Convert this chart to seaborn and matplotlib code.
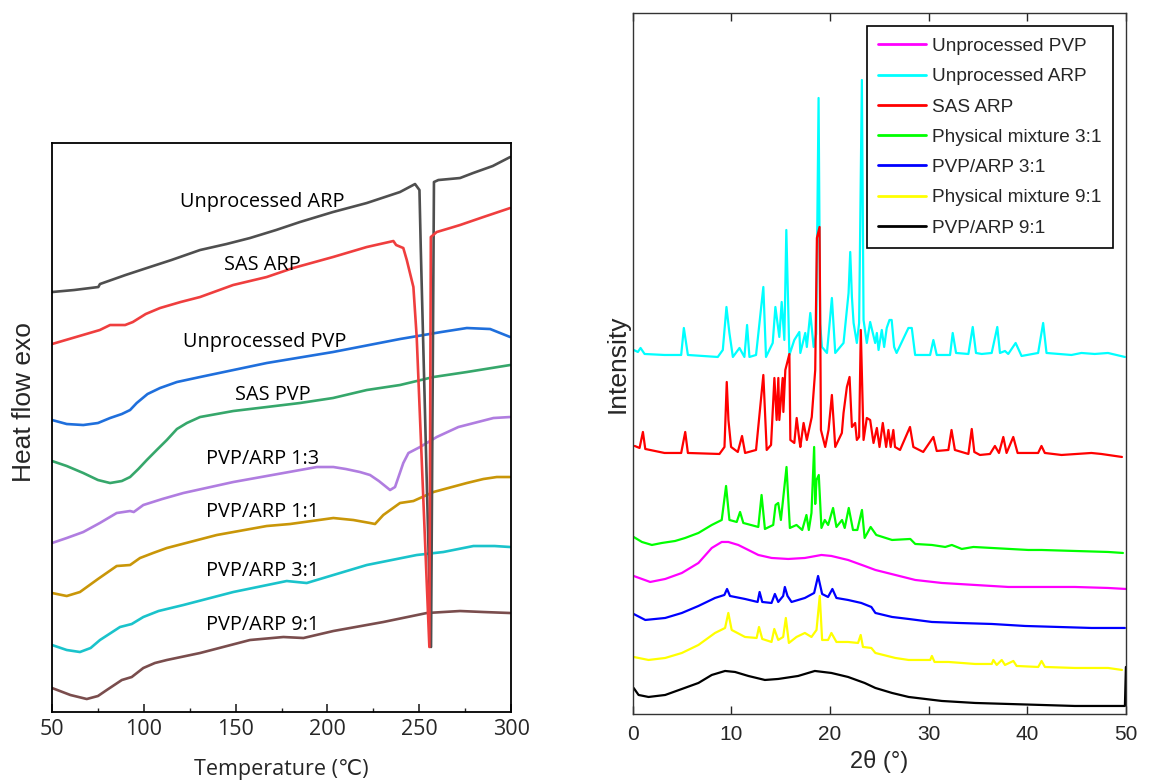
import matplotlib
matplotlib.use("Agg")
import matplotlib.pyplot as plt
import seaborn as sns
from matplotlib.ticker import MultipleLocator

sns.set_style("white")
plt.rcParams['font.family'] = ['Liberation Sans', 'DejaVu Sans']

# ---------------- DSC data (left panel): temperature (°C), heat flow (a.u.) ----------------
dsc_unproc_arp_T = [50, 62, 75.2, 76.1, 90, 101.6, 115, 130.6, 145, 157.8, 172, 185, 203, 221.4, 239.5, 247.7, 250.1, 250.8, 256.4, 258.0, 260.4, 272.2, 279.3, 290, 299.5]
dsc_unproc_arp_y = [420, 422, 425, 428, 437, 444, 452, 462, 468, 474, 482, 490, 500, 509, 520, 528, 522, 465, 65, 530, 532, 534, 539, 546, 555]

dsc_sas_arp_T = [50, 63, 76, 81.6, 89.8, 94, 101, 108.8, 120, 130.6, 148.6, 166.9, 181.3, 203, 221.4, 235.9, 237.4, 241.3, 243.2, 246.8, 248.6, 255.5, 256.3, 259.5, 266.8, 272.2, 284.9, 299.5]
dsc_sas_arp_y = [368, 375, 382, 387, 387, 390, 398, 404, 410, 415, 427, 435, 444, 455, 465, 471, 467, 464, 452, 425, 375, 65, 475, 480, 484, 487, 495, 504]

dsc_unproc_pvp_T = [50, 58, 67, 75, 81.6, 88, 92.5, 96.1, 102, 108.8, 118, 130.6, 166.9, 203, 239.5, 262, 275.9, 288.6, 299.5]
dsc_unproc_pvp_y = [292, 288, 287, 289, 294, 298, 302, 309, 318, 324, 330, 335, 349, 360, 373, 380, 384, 383, 375]

dsc_sas_pvp_T = [50, 58, 67, 75, 81.6, 88, 92.5, 97, 101.6, 107, 112.5, 118, 123.4, 130.6, 148.7, 166.9, 185, 203, 221.4, 239.5, 257.7, 275.9, 299.5]
dsc_sas_pvp_y = [251, 246, 239, 232, 229, 231, 235, 243, 252, 262, 272, 283, 289, 295, 301, 305, 309, 314, 322, 327, 335, 340, 347]

dsc_13_T = [50, 58, 67, 76, 85.2, 92.5, 94.5, 99.7, 110, 121.5, 148.7, 176, 194.2, 203.2, 210, 217.7, 223.2, 228, 234.1, 236.8, 241.3, 244.1, 250.4, 259.5, 271.3, 290.4, 299.5]
dsc_13_y = [169, 174, 180, 189, 199, 201, 200, 207, 213, 219, 230, 239, 245, 245, 243, 240, 237, 231, 222, 225, 249, 259, 265, 275, 285, 294, 295]

dsc_11_T = [50, 58, 65.2, 75, 85.2, 92.5, 97.9, 105, 112.5, 139.7, 166.9, 179.6, 203.2, 214.1, 223.2, 225.9, 230.4, 239.5, 246.8, 257.7, 275.9, 284.9, 292.2, 299.5]
dsc_11_y = [119, 116, 120, 133, 146, 147, 154, 159, 164, 177, 186, 188, 194, 192, 189, 188, 197, 209, 211, 220, 229, 233, 235, 235]

dsc_31_T = [50, 58, 65.2, 71, 76.1, 87, 93.4, 99.7, 108, 121.5, 148.7, 177.8, 188.7, 203.2, 221.4, 248.6, 263.1, 279.5, 291, 299.5]
dsc_31_y = [67, 62, 60, 64, 72, 85, 88, 95, 101, 107, 120, 131, 129, 137, 147, 157, 160, 166, 166, 165]

dsc_91_T = [50, 60, 68.9, 75, 79.8, 88, 93.4, 99.7, 106, 112.5, 130.6, 157.8, 176, 186.9, 203.2, 230.4, 254.1, 272.2, 284.9, 299.5]
dsc_91_y = [24, 17, 13, 16, 22, 32, 35, 44, 49, 52, 59, 72, 75, 74, 81, 90, 99, 101, 100, 99]

dsc_labels = ["Unprocessed ARP", "SAS ARP", "Unprocessed PVP", "SAS PVP",
              "PVP/ARP 1:3", "PVP/ARP 1:1", "PVP/ARP 3:1", "PVP/ARP 9:1"]

# ---------------- XRD data (right panel): 2-theta (deg), intensity (a.u.) ----------------
xrd_unproc_pvp_x = [0.09, 1.77, 3.29, 4.98, 6.66, 8.01, 9.02, 9.69, 10.7, 11.72, 12.73, 14.08, 15.76, 17.45, 19.13, 20.14, 21.83, 23.51, 24.6, 26.62, 28.64, 31.34, 34.71, 38.08, 41.45, 44.82, 48.2, 50.0]
xrd_unproc_pvp_y = [138, 132, 135, 141, 151, 166, 172, 172, 169, 164, 159, 156, 155, 156, 159, 158, 154, 148, 144, 139, 134, 131, 129, 127, 127, 127, 126, 125]

xrd_unproc_arp_x = [0.1, 0.52, 0.79, 1.2, 3.22, 4.91, 5.18, 5.59, 8.62, 9.13, 9.5, 9.8, 10.15, 10.82, 11.32, 11.59, 11.83, 12.5, 13.24, 13.51, 14.19, 14.46, 14.86, 15.1, 15.37, 15.57, 15.88, 16.38, 16.89,
                    16.99, 17.49, 17.65, 18.0, 18.34, 18.6, 18.84, 19.0, 19.18, 19.69, 20.19, 20.53, 21.37, 21.88, 22.05, 22.22, 22.39, 22.72, 22.95, 23.23, 23.4, 23.73, 24.07, 24.58, 24.75, 24.92, 25.25, 25.49, 25.75, 26.03, 26.25, 26.5, 26.75, 27.95, 28.29, 28.63, 30.15, 30.48, 30.82, 32.17, 32.44, 32.78,
                    34.03, 34.47, 34.8, 35.38, 36.39, 36.96, 37.23, 37.74, 38.07, 38.82, 39.42, 41.1, 41.61, 41.95, 44.48, 45.49, 46.84, 48.18, 49.9]
xrd_unproc_arp_y = [364, 362, 366, 360, 359, 359, 386, 359, 357, 364, 407, 381, 357, 366, 357, 389, 357, 359, 427, 357, 371, 407, 377, 412, 374, 484, 359, 374, 382,
                    361, 381, 367, 401, 367, 380, 616, 390, 367, 361, 416, 361, 371, 421, 462, 417, 391, 371, 391, 634, 394, 371, 392, 371, 381, 364, 384, 367, 386, 394, 394, 367, 361, 386, 386, 359, 359, 374, 359, 359, 381, 361,
                    360, 387, 361, 360, 361, 387, 361, 363, 360, 371, 358, 361, 391, 361, 359, 361, 360, 361, 357]

xrd_sas_arp_x = [0.2, 0.69, 1.03, 1.27, 3.22, 4.91, 5.32, 5.59, 8.79, 9.3, 9.53, 9.7, 9.97, 10.65, 11.08, 11.39, 12.5, 13.24, 13.58, 14.02, 14.36, 14.59, 14.76, 14.86, 15.2, 15.27, 15.47, 15.88, 15.98, 16.38, 16.62, 16.89,
                 16.99, 17.32, 17.65, 18.15, 18.5, 18.67, 18.94, 19.08, 19.51, 19.85, 20.19, 20.53, 21.2, 21.37, 21.71, 21.98, 22.22, 22.55, 22.72, 22.95, 23.12, 23.4, 23.73, 24.07, 24.41, 24.75, 25.02, 25.35, 25.69, 25.92, 26.15, 26.42, 26.59, 27.1, 28.11, 28.45, 29.45, 30.48, 30.82, 32.0, 32.32, 32.66,
                 34.03, 34.37, 34.63, 35.2, 36.22, 36.72, 37.13, 37.57, 37.9, 38.58, 39.02, 41.1, 41.44, 41.78, 43.47, 46.5, 47.51, 49.6]
xrd_sas_arp_y = [268, 266, 282, 265, 261, 261, 282, 261, 260, 267, 332, 294, 267, 262, 278, 261, 264, 339, 264, 269, 336, 294, 336, 294, 336, 302, 344, 360, 274, 271, 296, 274,
                 267, 291, 274, 297, 344, 476, 487, 284, 267, 284, 319, 267, 281, 301, 327, 337, 287, 291, 274, 277, 384, 274, 296, 294, 271, 286, 267, 291, 267, 284, 267, 284, 267, 264, 287, 267, 262, 277, 263, 264, 284, 264,
                 260, 285, 262, 259, 260, 268, 261, 277, 261, 277, 261, 261, 268, 261, 259, 261, 260, 257]

xrd_pm31_x = [0.09, 0.93, 1.94, 2.95, 4.3, 5.31, 6.66, 8.01, 9.02, 9.46, 9.8, 10.54, 10.88, 11.21, 12.73, 13.06, 13.4, 14.24, 14.48, 14.75, 15.02, 15.59, 15.93, 16.6, 17.18, 17.61, 17.85, 18.12, 18.39, 18.5, 18.63, 18.86, 19.13, 19.47, 19.81, 20.31, 20.65, 21.22, 21.49, 21.9, 22.33, 22.77, 23.24, 23.51, 24.12, 24.69,
              26.29, 28.14, 28.64, 30.33, 31.68, 32.35, 33.36, 34.54, 36.4, 40.1, 41.45, 44.82, 48.2, 49.7]
xrd_pm31_y = [177, 172, 169, 171, 173, 176, 181, 189, 194, 228, 194, 192, 202, 191, 187, 219, 185, 189, 209, 211, 194, 247, 186, 189, 184, 199, 184, 201, 267, 210, 234, 239, 186, 194, 189, 206, 187, 194, 186, 206, 184, 184, 204, 176, 187, 179,
              174, 175, 170, 169, 167, 169, 165, 167, 166, 164, 164, 163, 162, 161]

xrd_pvp31_x = [0.09, 1.27, 3.29, 4.98, 6.66, 8.34, 9.29, 9.56, 9.86, 11.38, 12.66, 12.86, 13.13, 14.07, 14.41, 14.75, 15.25, 15.42, 15.69, 16.1, 17.45, 18.39, 18.79, 19.2, 19.8, 20.24, 20.65, 21.83, 23.17, 24.19, 24.6, 26.29, 27.97, 30.33, 33.03, 36.4, 39.77, 43.14, 46.51, 49.9]
xrd_pvp31_y = [100, 94, 96, 101, 108, 116, 119, 125, 118, 115, 112, 122, 112, 111, 120, 112, 118, 127, 118, 112, 116, 121, 138, 120, 117, 125, 116, 114, 111, 107, 101, 97, 95, 92, 91, 90, 88, 87, 86, 86]

xrd_pm91_x = [0.09, 1.6, 3.29, 4.98, 6.66, 8.34, 9.36, 9.69, 10.03, 11.38, 12.56, 12.8, 13.13, 14.07, 14.35, 14.75, 15.25, 15.52, 15.83, 16.6, 17.45, 18.12, 18.63, 18.96, 19.2, 19.8, 20.14, 20.65, 21.83, 22.84, 23.11, 23.34, 24.19, 24.6, 26.62, 27.97, 30.16, 30.33, 30.6, 32.01, 34.71, 36.4, 36.56, 36.9, 37.41, 37.74, 38.59, 38.92, 41.11, 41.45, 41.79, 44.82, 48.2, 49.6]
xrd_pm91_y = [57, 54, 56, 61, 69, 81, 86, 101, 84, 77, 76, 87, 75, 72, 85, 74, 77, 96, 71, 77, 81, 77, 84, 118, 74, 74, 81, 72, 72, 71, 79, 67, 66, 61, 56, 54, 54, 58, 52, 52, 50, 50, 54, 49, 54, 49, 53, 48, 47, 53, 47, 46, 46, 44]

xrd_pvp91_x = [0.09, 0.59, 1.6, 3.29, 4.98, 6.66, 8.01, 9.36, 10.37, 11.72, 13.4, 14.75, 16.77, 18.46, 20.14, 21.83, 23.51, 24.6, 26.29, 27.97, 31.34, 34.71, 38.08, 41.45, 44.82, 48.2, 49.9, 50.0]
xrd_pvp91_y = [26, 19, 17, 19, 25, 31, 39, 43, 42, 38, 34, 35, 38, 43, 41, 37, 31, 26, 21, 17, 13, 11, 10, 9, 8, 8, 8, 47]

xrd_labels = ["Unprocessed PVP", "Unprocessed ARP", "SAS ARP", "Physical mixture 3:1",
              "PVP/ARP 3:1", "Physical mixture 9:1", "PVP/ARP 9:1"]
xrd_ticks = [0, 10, 20, 30, 40, 50]

# ---------------- figure ----------------
fig = plt.figure(figsize=(11.49, 7.82), dpi=100)
axL = fig.add_axes([0.0453, 0.0895, 0.3995, 0.7276])
axR = fig.add_axes([0.5507, 0.0870, 0.4292, 0.8964])

seg = ['Open Sans', 'DejaVu Sans']
dsc_series = [
    (dsc_unproc_arp_T, dsc_unproc_arp_y, '#4f4f4f'),
    (dsc_sas_arp_T, dsc_sas_arp_y, '#ef3e3e'),
    (dsc_unproc_pvp_T, dsc_unproc_pvp_y, '#1f6fdc'),
    (dsc_sas_pvp_T, dsc_sas_pvp_y, '#36a76b'),
    (dsc_13_T, dsc_13_y, '#b07de0'),
    (dsc_11_T, dsc_11_y, '#c99608'),
    (dsc_31_T, dsc_31_y, '#1ac3cb'),
    (dsc_91_T, dsc_91_y, '#7a4d4d'),
]
# draw lower curves first, the melting curves on top
for T, y, c in dsc_series[2:] + dsc_series[:2]:
    sns.lineplot(x=T, y=y, ax=axL, color=c, linewidth=1.9, sort=False,
                 estimator=None, legend=False)

label_pos = [(164.5, 510), (164.5, 447), (166, 370), (170, 317),
             (164.5, 253), (164.5, 200), (164.5, 141), (164.5, 87)]
for (tx, ty), lab in zip(label_pos, dsc_labels):
    axL.text(tx, ty, lab, ha='center', va='center', fontsize=14.3, family=seg, color='black')

axL.set_xlim(50, 300)
axL.set_ylim(0, 569)
axL.set_yticks([])
axL.xaxis.set_major_locator(MultipleLocator(50))
axL.xaxis.set_minor_locator(MultipleLocator(25))
axL.tick_params(axis='x', which='major', direction='in', length=6, width=1.2, pad=5, labelsize=15.5)
axL.tick_params(axis='x', which='minor', direction='in', length=3, width=1.0)
axL.tick_params(axis='x', which='both', bottom=True, top=False)
for lab in axL.get_xticklabels():
    lab.set_family(seg)
for s in axL.spines.values():
    s.set_color('black')
    s.set_linewidth(1.3)
axL.set_xlabel("Temperature (℃)", fontsize=15.5, family=seg, labelpad=14)
axL.set_ylabel("Heat flow exo", fontsize=19, family=['Liberation Sans', 'DejaVu Sans'])
axL.yaxis.set_label_coords(-0.035, 0.545)

xrd_series = [
    (xrd_unproc_pvp_x, xrd_unproc_pvp_y, '#ff00ff'),
    (xrd_unproc_arp_x, xrd_unproc_arp_y, '#00ffff'),
    (xrd_sas_arp_x, xrd_sas_arp_y, '#ff0000'),
    (xrd_pm31_x, xrd_pm31_y, '#00ff00'),
    (xrd_pvp31_x, xrd_pvp31_y, '#0000ff'),
    (xrd_pm91_x, xrd_pm91_y, '#ffff00'),
    (xrd_pvp91_x, xrd_pvp91_y, '#000000'),
]
for (x, y, c), lab in zip(xrd_series, xrd_labels):
    sns.lineplot(x=x, y=y, ax=axR, color=c, linewidth=1.6, sort=False,
                 estimator=None, legend=False, label=lab)

axR.set_xlim(0, 50)
axR.set_ylim(0, 701)
axR.set_yticks([])
axR.set_xticks(xrd_ticks)
axR.set_xticklabels([str(t) for t in xrd_ticks])
axR.tick_params(axis='x', which='major', direction='in', length=6, width=1.0,
                pad=8, labelsize=15, top=True, bottom=True)
for s in axR.spines.values():
    s.set_color('#333333')
    s.set_linewidth(1.0)
axR.set_xlabel("2θ (°)", fontsize=17, labelpad=4)
axR.set_ylabel("Intensity", fontsize=19, labelpad=2)

leg = axR.legend(loc='upper right', fontsize=13.7, frameon=True, fancybox=False,
                 edgecolor='black', framealpha=1, handlelength=2.5, handletextpad=0.3,
                 labelspacing=0.68, borderaxespad=0.7, borderpad=0.6)
leg.get_frame().set_linewidth(1.2)
for line in leg.get_lines():
    line.set_linewidth(2.0)

fig.savefig("out.png", dpi=100)
